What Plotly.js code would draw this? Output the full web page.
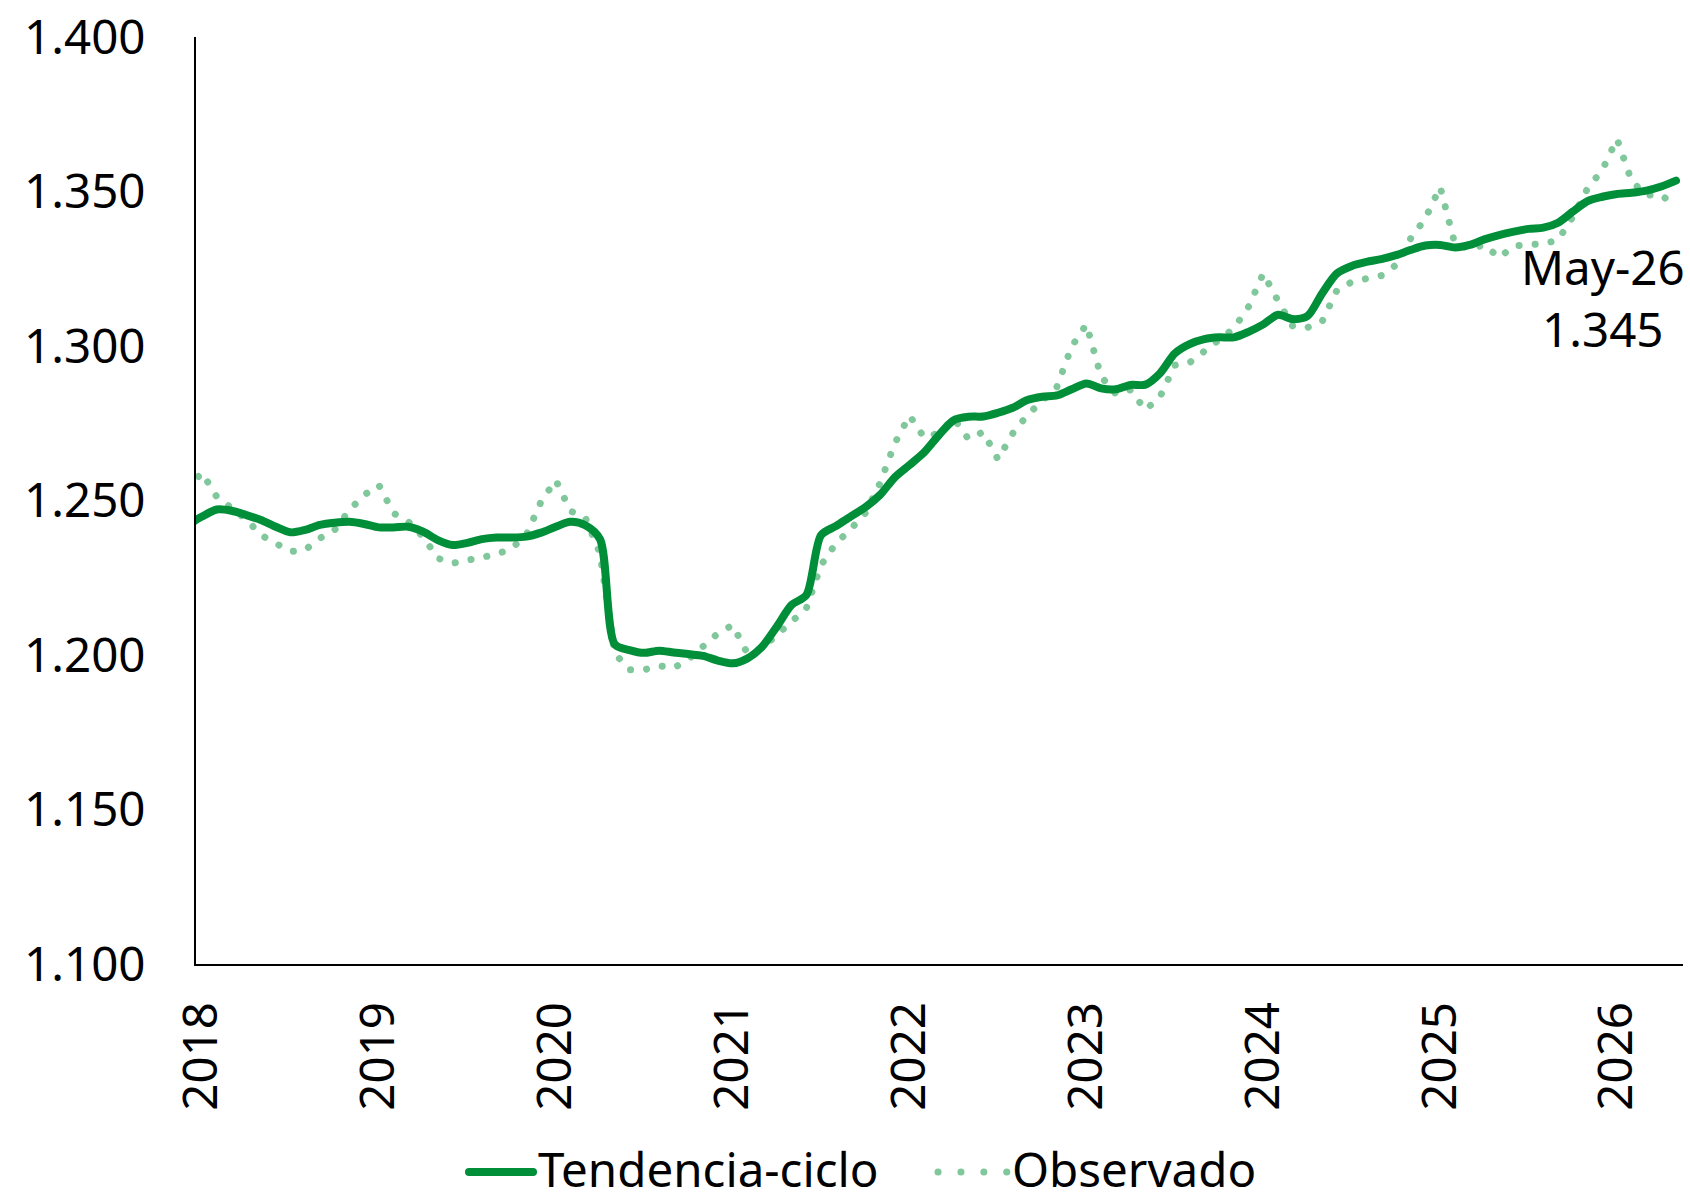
<!DOCTYPE html>
<html><head><meta charset="utf-8">
<script src="https://cdn.plot.ly/plotly-3.0.1.min.js"></script>
<style>
html,body{margin:0;padding:0;background:#fff;}
#chart{width:1690px;height:1200px;}
#chart .scatterlayer .js-line{stroke-linecap:round;stroke-linejoin:round;}
#chart .shapelayer path{stroke-linecap:round;}
</style></head><body><div id="chart"></div>
<script>
// Monthly categories: Dec 2017 (partly clipped at the axis) to May 2026
const months = ['2017-12'];
for (let y = 2018; y <= 2026; y++) {
  for (let m = 1; m <= 12; m++) {
    if (y === 2026 && m > 5) break;
    months.push(y + '-' + String(m).padStart(2, '0'));
  }
}
const yearTicks = ['2018','2019','2020','2021','2022','2023','2024','2025','2026'];

const seriesNames = ['Tendencia-ciclo', 'Observado'];

const trendCycle = [1.2420,
  1.2448,1.2471,1.2467,1.2453,1.2437,1.2415,1.2397,1.2405,1.2421,1.2428,1.2431,1.2424,
  1.2413,1.2413,1.2415,1.2399,1.2372,1.2356,1.2363,1.2375,1.2380,1.2380,1.2383,1.2396,
  1.2415,1.2431,1.2420,1.2375,1.2035,1.2016,1.2007,1.2014,1.2008,1.2003,1.1997,1.1982,
  1.1973,1.1989,1.2027,1.2092,1.2162,1.2194,1.2388,1.2417,1.2448,1.2478,1.2518,1.2575,
  1.2615,1.2656,1.2712,1.2760,1.2771,1.2772,1.2784,1.2800,1.2825,1.2836,1.2840,1.2860,
  1.2879,1.2863,1.2860,1.2874,1.2875,1.2912,1.2976,1.3006,1.3022,1.3028,1.3028,1.3046,
  1.3070,1.3101,1.3087,1.3097,1.3171,1.3235,1.3259,1.3272,1.3281,1.3294,1.3311,1.3325,
  1.3327,1.3319,1.3327,1.3345,1.3359,1.3370,1.3379,1.3383,1.3399,1.3435,1.3469,1.3483,
  1.3492,1.3496,1.3503,1.3516,1.3535];

const observed = [1.2540,
  1.2590,1.2512,1.2478,1.2439,1.2388,1.2361,1.2335,1.2340,1.2378,1.2405,1.2469,1.2518,
  1.2550,1.2459,1.2431,1.2383,1.2313,1.2297,1.2305,1.2314,1.2326,1.2345,1.2388,1.2496,
  1.2566,1.2466,1.2445,1.2329,1.2005,1.1952,1.1952,1.1965,1.1958,1.1986,1.2027,1.2070,
  1.2097,1.2005,1.2022,1.2065,1.2106,1.2151,1.2291,1.2361,1.2407,1.2459,1.2556,1.2685,
  1.2775,1.2703,1.2719,1.2766,1.2699,1.2722,1.2633,1.2717,1.2777,1.2820,1.2868,1.2998,
  1.3070,1.2901,1.2845,1.2858,1.2793,1.2836,1.2938,1.2946,1.2982,1.3014,1.3057,1.3127,
  1.3235,1.3146,1.3064,1.3060,1.3080,1.3181,1.3207,1.3218,1.3228,1.3262,1.3348,1.3413,
  1.3515,1.3330,1.3315,1.3327,1.3286,1.3324,1.3327,1.3331,1.3343,1.3418,1.3510,1.3570,
  1.3670,1.3532,1.3489,1.3489,1.3450];

const lastLabel = 'May-26';

// ---- drawing ----
const xIdx = months.map((_, i) => i);
const janIdx = months.map((m, i) => m.endsWith('-01') ? i : -1).filter(i => i >= 0);

const W = 1690, H = 1200;
const M = {l: 196, r: 7, t: 37, b: 236};
const plotW = W - M.l - M.r, plotH = H - M.t - M.b;
const px = x => (x - M.l) / plotW;
const py = y => (H - M.b - y) / plotH;

const trendColor = '#008E39';
const obsColor = '#80C89B';
const FONT = 'Noto Sans, Open Sans, sans-serif';
const FS = 47.5;

const traces = [
  {x: xIdx, y: observed, name: seriesNames[1], type: 'scatter', mode: 'lines',
   line: {color: obsColor, width: 7, dash: '0.1px,16px'}, hoverinfo: 'skip'},
  {x: xIdx, y: trendCycle, name: seriesNames[0], type: 'scatter', mode: 'lines',
   line: {color: trendColor, width: 8, shape: 'spline', smoothing: 0.8}, hoverinfo: 'skip'}
];

const last = months.length - 1;
const legendY = 1168;
const layout = {
  width: W, height: H,
  margin: M,
  paper_bgcolor: '#fff', plot_bgcolor: '#fff',
  font: {family: FONT, size: FS, color: '#000'},
  showlegend: false,
  xaxis: {
    range: [1 - 6/14.74, last + 7/14.74],
    tickmode: 'array', tickvals: janIdx, ticktext: yearTicks,
    tickangle: -90, ticks: '', showgrid: false, zeroline: false,
    showline: true, linecolor: '#000', linewidth: 2,
    tickfont: {family: FONT, size: FS, color: '#000'},
    ticklabelstandoff: 17
  },
  yaxis: {
    range: [1.1, 1.4], tickmode: 'linear', tick0: 1.1, dtick: 0.05,
    tickformat: '.3f', ticks: '', showgrid: false, zeroline: false,
    showline: true, linecolor: '#000', linewidth: 2,
    tickfont: {family: FONT, size: FS, color: '#000'},
    ticklabelstandoff: 39
  },
  annotations: [
    {x: last, y: observed[last], xref: 'x', yref: 'y',
     text: lastLabel + '<br>' + observed[last].toFixed(3),
     showarrow: false, xanchor: 'center', yanchor: 'middle',
     xshift: -73, yshift: -91, align: 'center',
     font: {family: FONT, size: FS, color: '#000'}},
    {x: px(537), y: py(legendY), xref: 'paper', yref: 'paper', text: seriesNames[0],
     showarrow: false, xanchor: 'left', yanchor: 'middle', borderpad: 0,
     font: {family: FONT, size: FS, color: '#000'}},
    {x: px(1011), y: py(legendY), xref: 'paper', yref: 'paper', text: seriesNames[1],
     showarrow: false, xanchor: 'left', yanchor: 'middle', borderpad: 0,
     font: {family: FONT, size: FS, color: '#000'}}
  ],
  shapes: [
    {type: 'line', xref: 'paper', yref: 'paper', x0: px(469), x1: px(533), y0: py(legendY + 4), y1: py(legendY + 4),
     line: {color: trendColor, width: 8}},
    {type: 'line', xref: 'paper', yref: 'paper', x0: px(938), x1: px(1008), y0: py(legendY + 4), y1: py(legendY + 4),
     line: {color: obsColor, width: 7, dash: '0.1px,22.8px'}}
  ]
};

Plotly.newPlot('chart', traces, layout, {staticPlot: true, displayModeBar: false});
</script></body></html>
